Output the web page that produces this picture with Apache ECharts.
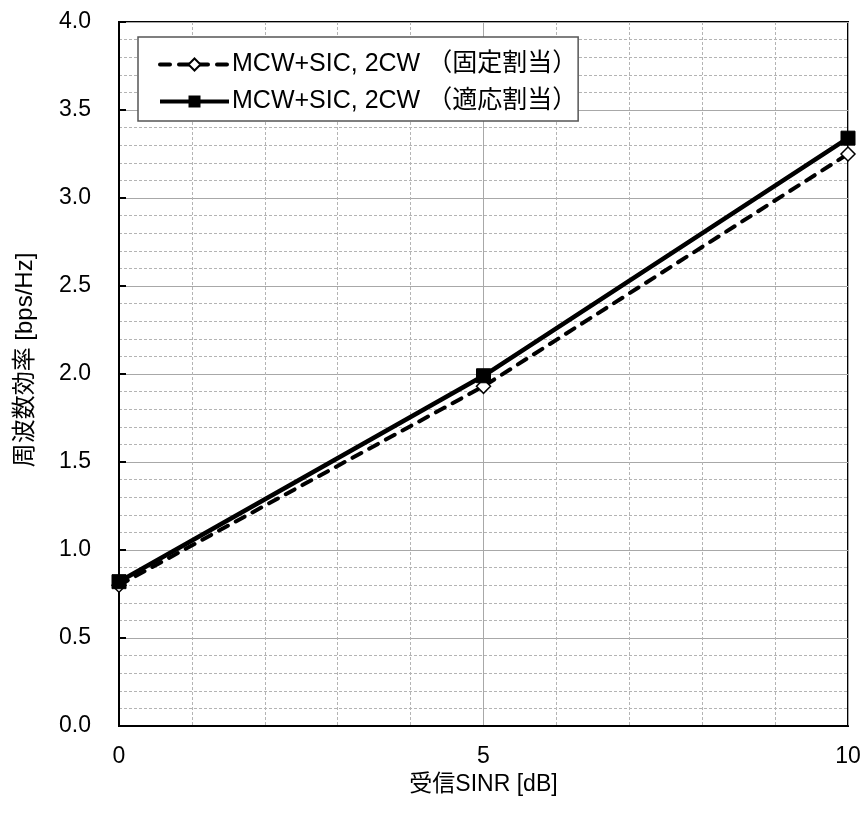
<!DOCTYPE html>
<html>
<head>
<meta charset="utf-8">
<script src="https://cdn.jsdelivr.net/npm/echarts@6/dist/echarts.min.js"></script>
<style>
  html, body { margin: 0; padding: 0; background: #fff; }
  #chart { width: 864px; height: 814px; }
</style>
</head>
<body>
<div id="chart"></div>
<script>
// Received SINR (dB) against spectral efficiency for two allocation schemes
const sinrDb = [0, 5, 10];
const fixedAlloc = [0.80, 1.93, 3.25];
const adaptiveAlloc = [0.82, 1.99, 3.34];
const seriesNames = ['MCW+SIC, 2CW （固定割当）', 'MCW+SIC, 2CW （適応割当）'];

const FONT = '"Liberation Sans", Arial, "Noto Sans CJK JP", sans-serif';
const FS = 23;

const chart = echarts.init(document.getElementById('chart'), null, { renderer: 'canvas' });

chart.setOption({
  animation: false,
  backgroundColor: '#ffffff',
  grid: {
    left: 119, right: 16, top: 22, bottom: 88,
    show: true, borderColor: '#000', borderWidth: 2, backgroundColor: 'transparent'
  },
  legend: {
    left: 138, top: 37, orient: 'vertical',
    itemWidth: 69, itemHeight: 15, itemGap: 12,
    padding: [15, 1, 7, 20],
    borderColor: '#555', borderWidth: 1.5, backgroundColor: '#fff',
    lineStyle: { width: 4 },
    textStyle: { fontFamily: FONT, fontSize: 25, color: '#000', padding: [0, 0, 0, -2] },
    data: seriesNames
  },
  xAxis: {
    type: 'value', min: 0, max: 10, interval: 5,
    name: '受信SINR [dB]', nameLocation: 'middle', nameGap: 33,
    nameTextStyle: { fontFamily: FONT, fontSize: FS, color: '#000', verticalAlign: 'top' },
    axisLine: { show: true, lineStyle: { color: '#000', width: 2 } },
    axisTick: { show: false },
    axisLabel: { fontFamily: FONT, fontSize: FS, color: '#000', margin: 19 },
    splitLine: { show: true, lineStyle: { color: '#a8a8a8', width: 1 } },
    minorTick: { show: false, splitNumber: 5 },
    minorSplitLine: { show: true, lineStyle: { color: '#b4b4b4', width: 1, type: [3, 2] } }
  },
  yAxis: {
    type: 'value', min: 0, max: 4, interval: 0.5,
    name: '周波数効率 [bps/Hz]', nameLocation: 'middle', nameGap: 82, nameRotate: 90,
    nameTextStyle: { fontFamily: FONT, fontSize: 24, color: '#000', padding: [0, 0, 0, 28] },
    axisLine: { show: true, lineStyle: { color: '#000', width: 2 } },
    axisTick: { show: true, inside: true, length: 7, lineStyle: { color: '#000', width: 2 } },
    axisLabel: {
      fontFamily: FONT, fontSize: FS, color: '#000', margin: 28, padding: [4, 0, 0, 0],
      formatter: v => v.toFixed(1)
    },
    splitLine: { show: true, lineStyle: { color: '#a8a8a8', width: 1 } },
    minorTick: { show: false, splitNumber: 5 },
    minorSplitLine: { show: true, lineStyle: { color: '#b4b4b4', width: 1, type: [3, 2] } }
  },
  series: [
    {
      name: seriesNames[0], type: 'line',
      data: sinrDb.map((x, i) => [x, fixedAlloc[i]]),
      symbol: 'diamond', symbolSize: 14,
      lineStyle: { color: '#000', width: 4, type: [10, 9], cap: 'round' },
      itemStyle: { color: '#fff', borderColor: '#000', borderWidth: 1.5 },
      z: 3
    },
    {
      name: seriesNames[1], type: 'line',
      data: sinrDb.map((x, i) => [x, adaptiveAlloc[i]]),
      symbol: 'rect', symbolSize: 14,
      lineStyle: { color: '#000', width: 4.5 },
      itemStyle: { color: '#000', borderColor: '#000' },
      z: 4
    }
  ]
});
</script>
</body>
</html>
